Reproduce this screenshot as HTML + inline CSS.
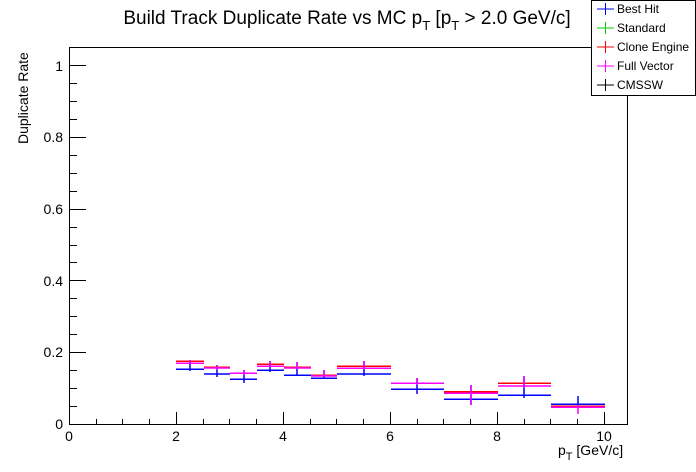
<!DOCTYPE html>
<html><head><meta charset="utf-8"><style>
html,body{margin:0;padding:0;background:#fff;width:696px;height:472px;overflow:hidden}
svg{display:block;font-family:"Liberation Sans",Arial,sans-serif}
</style></head><body>
<svg width="696" height="472" viewBox="0 0 696 472" xmlns="http://www.w3.org/2000/svg">
<rect x="0" y="0" width="696" height="472" fill="#fff"/>
<text x="347" y="24" font-size="19" text-anchor="middle">Build Track Duplicate Rate vs MC p<tspan font-size="13" dy="6">T</tspan><tspan dy="-6"> [p</tspan><tspan font-size="13" dy="6">T</tspan><tspan dy="-6"> &gt; 2.0 GeV/c]</tspan></text>
<rect x="69.5" y="47.5" width="558" height="377" fill="none" stroke="#000" stroke-width="1"/>
<g stroke="#000" stroke-width="1">
<path d="M69 424.5h17M69 352.5h17M69 280.5h17M69 209.5h17M69 137.5h17M69 65.5h17"/>
<path d="M69 406.5h8M69 388.5h8M69 370.5h8M69 334.5h8M69 316.5h8M69 298.5h8M69 262.5h8M69 245.5h8M69 227.5h8M69 191.5h8M69 173.5h8M69 155.5h8M69 119.5h8M69 101.5h8M69 83.5h8M69 47.5h8"/>
<path d="M69.5 424v-12M176.5 424v-12M283.5 424v-12M390.5 424v-12M497.5 424v-12M604.5 424v-12"/>
<path d="M96.5 424v-5M122.5 424v-5M149.5 424v-5M203.5 424v-5M229.5 424v-5M256.5 424v-5M310.5 424v-5M336.5 424v-5M363.5 424v-5M417.5 424v-5M443.5 424v-5M470.5 424v-5M524.5 424v-5M550.5 424v-5M577.5 424v-5"/>
</g>
<g font-size="14" text-anchor="end">
<text x="63" y="429">0</text><text x="63" y="357">0.2</text><text x="63" y="286">0.4</text><text x="63" y="214">0.6</text><text x="63" y="142">0.8</text><text x="63" y="71">1</text>
</g>
<g font-size="14" text-anchor="middle">
<text x="69" y="441">0</text><text x="176" y="441">2</text><text x="283" y="441">4</text><text x="390" y="441">6</text><text x="497" y="441">8</text><text x="604" y="441">10</text>
</g>
<text x="558" y="455" font-size="14">p<tspan font-size="11" dy="5">T</tspan><tspan dy="-5"> [GeV/c]</tspan></text>
<text transform="translate(28,144) rotate(-90)" font-size="14">Duplicate Rate</text>
<g stroke-width="1.5" fill="none">
<path stroke="#0000ff" d="M176 369.3h28M204 374h26M230 379.3h27M257 370.3h27M284 375.3h27M311 378.3h26M337 374h54M391 389.3h53M444 399.3h54M498 395.3h53M551 404.3h54"/>
<path stroke="#ff0000" d="M176 361.3h28M204 367.3h26M257 364.3h27M284 367.3h27M311 375.3h26M337 366.3h54M444 391.7h54M498 383.3h53M551 406.3h54"/>
<path stroke="#ff00ff" d="M176 363.3h28M204 368h26M230 373.3h27M257 366.3h27M284 368h27M311 376h26M337 368.3h54M391 383.3h53M444 393.3h54M498 386h53M551 407.3h54"/>
</g>
<g stroke-width="1.5">
<path stroke="#0000ff" d="M190 360v11M217 365v12M244 370v13M270 361v11M297 362v14M324 370v9M364 361v15M417 378v16M471 385v20M524 376v22M578 396v8"/>
<path stroke="#ff00ff" d="M190 360v4M217 365v5M244 370v5M270 361v6M297 362v7M324 370v7M364 361v8M417 378v7M471 385v20M524 376v12M578 405v9"/>
</g>
<rect x="591.5" y="0.5" width="104" height="95" fill="#fff" stroke="#000" stroke-width="1"/>
<g stroke-width="1">
<path stroke="#0000ff" d="M597 9h17M605.5 3v12"/>
<path stroke="#00cc00" d="M597 28h17M605.5 22v12"/>
<path stroke="#ff0000" d="M597 47h17M605.5 41v12"/>
<path stroke="#ff00ff" d="M597 66h17M605.5 60v12"/>
<path stroke="#000" d="M597 85h17M605.5 79v12"/>
</g>
<g font-size="12">
<text x="617" y="13">Best Hit</text><text x="617" y="32">Standard</text><text x="617" y="51">Clone Engine</text><text x="617" y="70">Full Vector</text><text x="617" y="89">CMSSW</text>
</g>
</svg>
</body></html>
